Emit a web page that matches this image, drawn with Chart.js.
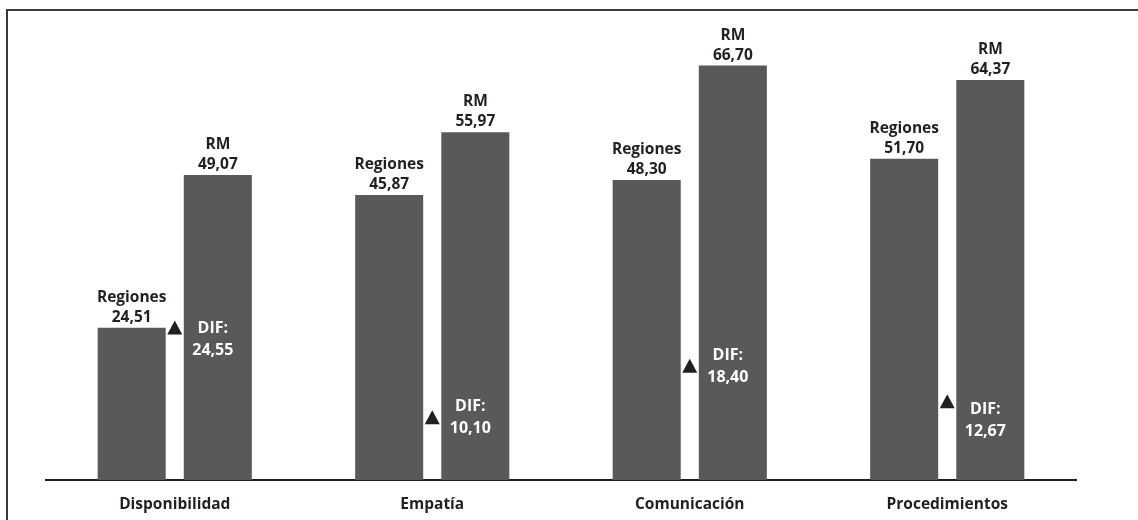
<!DOCTYPE html>
<html>
<head>
<meta charset="utf-8">
<script src="https://cdn.jsdelivr.net/npm/chart.js@4"></script>
<style>
    html, body { margin: 0; padding: 0; background: #fff; }
    #wrap { position: relative; width: 1138px; height: 520px; }
    #frame {
        position: absolute; left: 6px; top: 9px; right: 0; bottom: 0;
        border-top: 2px solid #3a3a3a; border-left: 2px solid #3a3a3a;
        pointer-events: none;
    }
</style>
</head>
<body>
<div id="wrap">
    <canvas id="chart" width="1138" height="520"></canvas>
    <div id="frame"></div>
</div>
<script>
// Chart data
const categories = ['Disponibilidad', 'Empatía', 'Comunicación', 'Procedimientos'];
const seriesNames = ['Regiones', 'RM'];
const regionesValues = [24.51, 45.87, 48.30, 51.70];
const rmValues = [49.07, 55.97, 66.70, 64.37];
const difValues = [24.55, 10.10, 18.40, 12.67];

const barColor = '#58595b';
const inkColor = '#231f20';
const fontFamily = '"Open Sans", "Noto Sans", sans-serif';

// shift (px) of the DIF text block relative to its triangle, per category
const difTextShift = [12, 0, 1, 19];

function fmt(v) {
    return v.toFixed(2).replace('.', ',');
}

// Draws the labels above the bars and the DIF markers
const labelPlugin = {
    id: 'barLabels',
    afterDatasetsDraw(chart) {
        const ctx = chart.ctx;
        const yScale = chart.scales.y;
        const xScale = chart.scales.x;
        ctx.save();
        ctx.textAlign = 'center';
        ctx.textBaseline = 'alphabetic';
        ctx.font = 'bold 15.5px ' + fontFamily;
        ctx.fillStyle = inkColor;

        chart.data.datasets.forEach((ds, di) => {
            const meta = chart.getDatasetMeta(di);
            meta.data.forEach((bar, i) => {
                ctx.fillText(fmt(ds.data[i]), bar.x, bar.y - 6);
                ctx.fillText(ds.label, bar.x, bar.y - 26);
            });
        });

        // DIF triangle between bars and text inside RM bar
        const rmMeta = chart.getDatasetMeta(1);
        difValues.forEach((d, i) => {
            const cx = xScale.getPixelForValue(i);
            const cy = yScale.getPixelForValue(d);
            ctx.fillStyle = inkColor;
            ctx.beginPath();
            ctx.moveTo(cx, cy - 7);
            ctx.lineTo(cx + 7.5, cy + 7);
            ctx.lineTo(cx - 7.5, cy + 7);
            ctx.closePath();
            ctx.fill();

            const tx = rmMeta.data[i].x - 5;
            const ty = cy + difTextShift[i];
            ctx.fillStyle = '#ffffff';
            ctx.font = 'bold 16px ' + fontFamily;
            ctx.textBaseline = 'middle';
            ctx.fillText('DIF:', tx, ty - 11);
            ctx.fillText(fmt(d), tx, ty + 11);
            ctx.textBaseline = 'alphabetic';
        });
        ctx.restore();
    }
};

const ctx = document.getElementById('chart').getContext('2d');
new Chart(ctx, {
    type: 'bar',
    data: {
        labels: categories,
        datasets: [
            {
                label: seriesNames[0],
                data: regionesValues,
                backgroundColor: barColor,
                borderWidth: 0
            },
            {
                label: seriesNames[1],
                data: rmValues,
                backgroundColor: barColor,
                borderWidth: 0
            }
        ]
    },
    options: {
        responsive: false,
        animation: false,
        devicePixelRatio: 1,
        categoryPercentage: 0.669,
        barPercentage: 0.79,
        layout: {
            padding: { left: 46, right: 62, top: 14, bottom: 0 }
        },
        scales: {
            x: {
                grid: { display: false, drawTicks: false },
                border: { display: true, color: inkColor, width: 2 },
                ticks: {
                    color: inkColor,
                    padding: 15,
                    font: { family: fontFamily, size: 15.5, weight: 'bold' }
                },
                afterFit(scale) {
                    scale.height = 40;
                }
            },
            y: {
                display: false,
                min: 0,
                max: 75
            }
        },
        plugins: {
            legend: { display: false },
            tooltip: { enabled: false }
        }
    },
    plugins: [labelPlugin]
});
</script>
</body>
</html>
